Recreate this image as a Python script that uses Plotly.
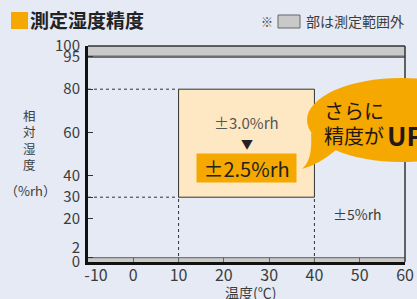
import plotly.graph_objects as go

# ---- data ----
x_ticks = [-10, 0, 10, 20, 30, 40, 50, 60]
x_labels = ["\u2003-10", "0", "10", "20", "30", "40", "50", "60"]
y_ticks = [0, 2, 20, 30, 40, 60, 80, 95, 100]
y_labels = ["0", "2<br> ", "20", "30", "40", "60", "80", "95", "100"]
x_range = [-10, 60]
y_range = [0, 100]
box_temp = [10, 40]          # improved accuracy range (°C)
box_hum = [30, 80]           # improved accuracy range (%rh)
out_top = [95, 100]          # out-of-range band (top)
out_bottom = [0, 2]          # out-of-range band (bottom)
acc_old = "±3.0%rh"
acc_new = "±2.5%rh"
acc_other = "±5%rh"

BG = "#e5eaf4"
ORANGE = "#f5a800"
PEACH = "#fde8c3"
GRAY = "#c9c9c9"
DARK = "#333333"
TXT = "#3c3c3c"
FONT = "Noto Sans CJK JP"

W, H = 417, 299
L, R, T, B = 88, 405, 46, 262

def fx(px):
    return (px - L) / (R - L)

def fy(py):
    return (B - py) / (B - T)

fig = go.Figure()

# invisible trace to establish axes
fig.add_trace(go.Scatter(x=x_range, y=y_range, mode="markers",
                         marker=dict(opacity=0), hoverinfo="skip", showlegend=False))

# dotted guide lines
fig.add_trace(go.Scatter(x=[x_range[0], box_temp[0], None, x_range[0], box_temp[0]],
                         y=[box_hum[1], box_hum[1], None, box_hum[0], box_hum[0]],
                         mode="lines", line=dict(color=DARK, width=1, dash="dot"),
                         hoverinfo="skip", showlegend=False))
fig.add_trace(go.Scatter(x=[box_temp[0], box_temp[0], None, box_temp[1], box_temp[1]],
                         y=[y_range[0], box_hum[0], None, y_range[0], box_hum[0]],
                         mode="lines", line=dict(color=DARK, width=1, dash="dot"),
                         hoverinfo="skip", showlegend=False))

shapes = []
# out-of-range bands
shapes.append(dict(type="rect", xref="x", yref="y", x0=x_range[0], x1=x_range[1],
                   y0=out_top[0], y1=out_top[1], fillcolor=GRAY, line=dict(width=0), layer="below"))
shapes.append(dict(type="line", xref="x", yref="y", x0=x_range[0], x1=x_range[1],
                   y0=out_top[0], y1=out_top[0], line=dict(color="#6e6e6e", width=2.5), layer="below"))
shapes.append(dict(type="rect", xref="x", yref="y", x0=x_range[0], x1=x_range[1],
                   y0=out_bottom[0], y1=out_bottom[1], fillcolor=GRAY, line=dict(width=0), layer="below"))
shapes.append(dict(type="line", xref="x", yref="y", x0=x_range[0], x1=x_range[1],
                   y0=out_bottom[1], y1=out_bottom[1], line=dict(color="#777777", width=1.2), layer="below"))
# improved range box
shapes.append(dict(type="rect", xref="x", yref="y", x0=box_temp[0], x1=box_temp[1],
                   y0=box_hum[0], y1=box_hum[1], fillcolor=PEACH,
                   line=dict(color=DARK, width=1), layer="below"))
# frame top/right
shapes.append(dict(type="line", xref="paper", yref="paper", x0=0, x1=1, y0=1, y1=1,
                   line=dict(color=DARK, width=1.5), layer="above"))
shapes.append(dict(type="line", xref="paper", yref="paper", x0=1, x1=1, y0=0, y1=1,
                   line=dict(color=DARK, width=1.5), layer="above"))
# speech bubble
shapes.append(dict(type="circle", xref="paper", yref="paper",
                   x0=fx(307), x1=fx(495), y0=fy(162), y1=fy(78),
                   fillcolor=ORANGE, line=dict(width=0), layer="above"))
shapes.append(dict(type="path", xref="paper", yref="paper",
                   path=(f"M {fx(311)} {fy(133)} Q {fx(313)} {fy(160)} {fx(302)} {fy(169)} "
                         f"Q {fx(318)} {fy(165)} {fx(336)} {fy(150)} Z"),
                   fillcolor=ORANGE, line=dict(width=0), layer="above"))
# title square
shapes.append(dict(type="rect", xref="paper", yref="paper",
                   x0=fx(11), x1=fx(28), y0=fy(29), y1=fy(12),
                   fillcolor=ORANGE, line=dict(width=0), layer="above"))
# legend gray box
shapes.append(dict(type="rect", xref="paper", yref="paper",
                   x0=fx(278), x1=fx(300), y0=fy(28), y1=fy(15),
                   fillcolor=GRAY, line=dict(color="#666666", width=1), layer="above"))

ann = []
ann.append(dict(text="<b>測定湿度精度</b>", xref="paper", yref="paper", x=fx(28), y=fy(20),
                xanchor="left", yanchor="middle", showarrow=False,
                font=dict(family=FONT, size=19, color="#222222")))
ann.append(dict(text="※", xref="paper", yref="paper", x=fx(275), y=fy(21),
                xanchor="right", yanchor="middle", showarrow=False,
                font=dict(family=FONT, size=12, color=TXT)))
ann.append(dict(text="部は測定範囲外", xref="paper", yref="paper", x=fx(304), y=fy(21),
                xanchor="left", yanchor="middle", showarrow=False,
                font=dict(family=FONT, size=14, color=TXT)))
ann.append(dict(text="相<br>対<br>湿<br>度", xref="paper", yref="paper", x=fx(29), y=fy(140),
                xanchor="center", yanchor="middle", showarrow=False,
                font=dict(family=FONT, size=12.5, color=TXT)))
ann.append(dict(text="（%rh）", xref="paper", yref="paper", x=fx(30), y=fy(190),
                xanchor="center", yanchor="middle", showarrow=False,
                font=dict(family=FONT, size=13, color=TXT)))
ann.append(dict(text="温度(℃)", xref="paper", yref="paper", x=fx(250), y=fy(292),
                xanchor="center", yanchor="middle", showarrow=False,
                font=dict(family=FONT, size=14, color=TXT)))
mid_t = sum(box_temp) / 2
ann.append(dict(text=acc_old, xref="x", yref="y", x=mid_t, y=64.5,
                xanchor="center", yanchor="middle", showarrow=False,
                font=dict(family=FONT, size=15, color="#555555")))
ann.append(dict(text="▼", xref="x", yref="y", x=mid_t, y=55,
                xanchor="center", yanchor="middle", showarrow=False,
                font=dict(family=FONT, size=12, color="#222222")))
ann.append(dict(text=acc_new, xref="x", yref="y", x=mid_t, y=43.5,
                xanchor="center", yanchor="middle", showarrow=False,
                bgcolor=ORANGE, width=97, height=26, borderpad=1,
                font=dict(family=FONT, size=20, color="#222222")))
ann.append(dict(text=acc_other, xref="x", yref="y", x=49.4, y=22.2,
                xanchor="center", yanchor="middle", showarrow=False,
                font=dict(family=FONT, size=14, color=TXT)))
ann.append(dict(text="さらに", xref="paper", yref="paper", x=fx(322), y=fy(110),
                xanchor="left", yanchor="middle", showarrow=False,
                font=dict(family=FONT, size=20, color="#231815")))
ann.append(dict(text="精度が", xref="paper", yref="paper", x=fx(322), y=fy(135),
                xanchor="left", yanchor="middle", showarrow=False,
                font=dict(family=FONT, size=20, color="#231815")))
ann.append(dict(text="<b>UP</b>", xref="paper", yref="paper", x=fx(385), y=fy(134),
                xanchor="left", yanchor="middle", showarrow=False,
                font=dict(family=FONT, size=26, color="#231815")))

fig.update_layout(
    width=W, height=H,
    margin=dict(l=L, r=W - R, t=T, b=H - B, pad=0, autoexpand=False),
    paper_bgcolor=BG, plot_bgcolor=BG,
    shapes=shapes, annotations=ann, showlegend=False,
    font=dict(family=FONT, color=TXT),
)
fig.update_xaxes(range=x_range, tickvals=x_ticks, ticktext=x_labels, ticks="inside", ticklen=5,
                 tickcolor="#666666", tickwidth=1.2, showgrid=False, zeroline=False,
                 showline=True, linecolor="#111111", linewidth=3, automargin=False,
                 tickfont=dict(family=FONT, size=16, color=TXT), ticklabelstandoff=-3)
fig.update_yaxes(range=y_range, tickvals=y_ticks, ticktext=y_labels, ticks="inside", ticklen=5,
                 tickcolor="#333333", tickwidth=1, showgrid=False, zeroline=False,
                 showline=True, linecolor="#111111", linewidth=3, automargin=False,
                 tickfont=dict(family=FONT, size=15, color=TXT), ticklabelstandoff=2)

fig.write_html("out.html",
               post_script="document.body.style.margin='0';document.body.style.overflow='hidden';",
               config={"displayModeBar": False})
